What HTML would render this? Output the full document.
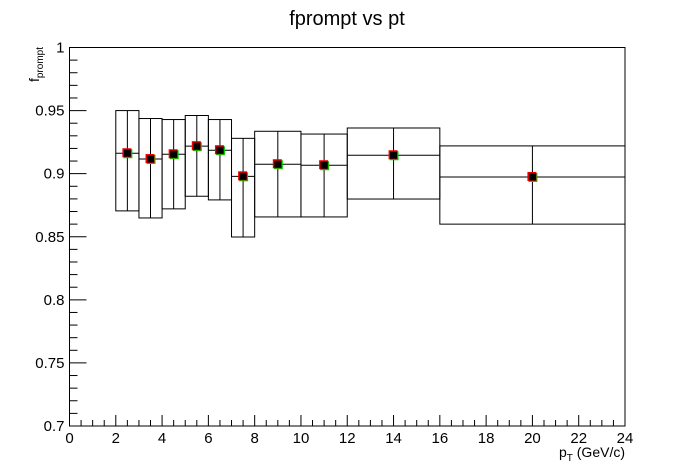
<!DOCTYPE html>
<html><head><meta charset="utf-8"><style>
body{margin:0;background:#fff}
svg{display:block;font-family:"Liberation Sans",Arial,sans-serif}
</style></head><body>
<svg id="c" width="695" height="474" viewBox="0 0 695 474">
<text x="347" y="25" font-size="20" text-anchor="middle">fprompt vs pt</text>
<g id="axes"></g>
<g id="data"></g>
<text x="625" y="457" font-size="14" text-anchor="end">p<tspan font-size="10" dy="4">T</tspan><tspan dy="-4"> (GeV/c)</tspan></text>
<text transform="translate(39,47) rotate(-90)" font-size="14" text-anchor="end">f<tspan font-size="10" dy="4">prompt</tspan></text>
</svg>
<script>
const binLow=[2,3,4,5,6,7,8,10,12,16];
const binHigh=[3,4,5,6,7,8,10,12,16,24];
const values=[0.9162,0.9116,0.9154,0.9218,0.9186,0.8979,0.9075,0.9067,0.9146,0.8974];
const sysHigh=[0.950,0.9437,0.9429,0.9461,0.9429,0.928,0.9336,0.9314,0.9362,0.922];
const sysLow=[0.8705,0.8649,0.8721,0.8821,0.8792,0.8498,0.8657,0.8657,0.8799,0.860];
const yTicks=["0.7","0.75","0.8","0.85","0.9","0.95","1"];
const xTicks=["0","2","4","6","8","10","12","14","16","18","20","22","24"];
const L=69.5,R=625,T=47.5,B=426;
const xs=v=>L+(v-0)/24*(R-L);
const ys=v=>B-(v-0.7)/0.3*(B-T);
const NS="http://www.w3.org/2000/svg";
function mk(tag,attrs,parent){const e=document.createElementNS(NS,tag);for(const k in attrs)e.setAttribute(k,attrs[k]);parent.appendChild(e);return e;}
const ax=document.getElementById('axes'),dg=document.getElementById('data');
let fr=mk('rect',{x:L,y:T,width:R-L,height:B-T,fill:'none',stroke:'#000','stroke-width':1},ax);


for(let i=0;i<=30;i++){const v=0.7+i*0.01;const maj=i%5==0;
 mk('line',{x1:L,x2:L+(maj?17:8),y1:ys(v),y2:ys(v),stroke:'#000'},ax);}
yTicks.forEach(t=>{const e=mk('text',{x:L-5,y:ys(+t)+5,'font-size':15,'text-anchor':'end'},ax);e.textContent=t;
 
 });
for(let i=0;i<=48;i++){const v=i*0.5;const maj=i%4==0;
 mk('line',{x1:xs(v),x2:xs(v),y1:B,y2:B-(maj?11:6),stroke:'#000'},ax);}
xTicks.forEach(t=>{const e=mk('text',{x:xs(+t),y:443,'font-size':15,'text-anchor':'middle'},ax);e.textContent=t;
 
 });
values.forEach((v,i)=>{const x0=xs(binLow[i]),x1=xs(binHigh[i]),xc=xs((binLow[i]+binHigh[i])/2);
 const g=mk('g',{},dg);
 
 
 mk('rect',{x:x0,y:ys(sysHigh[i]),width:x1-x0,height:ys(sysLow[i])-ys(sysHigh[i]),fill:'none',stroke:'#000'},g);
 mk('line',{x1:xc,x2:xc,y1:ys(sysHigh[i]),y2:ys(sysLow[i]),stroke:'#000'},g);
 mk('line',{x1:x0,x2:x1,y1:ys(v),y2:ys(v),stroke:'#000'},g);
 mk('rect',{x:xc-4,y:ys(v)-4,width:9,height:9,fill:'#0c0'},g);
 mk('rect',{x:xc-5,y:ys(v)-5,width:9,height:9,fill:'#e00'},g);
 mk('rect',{x:xc-3.5,y:ys(v)-3.5,width:7,height:7,fill:'#000'},g);
});
</script>
</body></html>
